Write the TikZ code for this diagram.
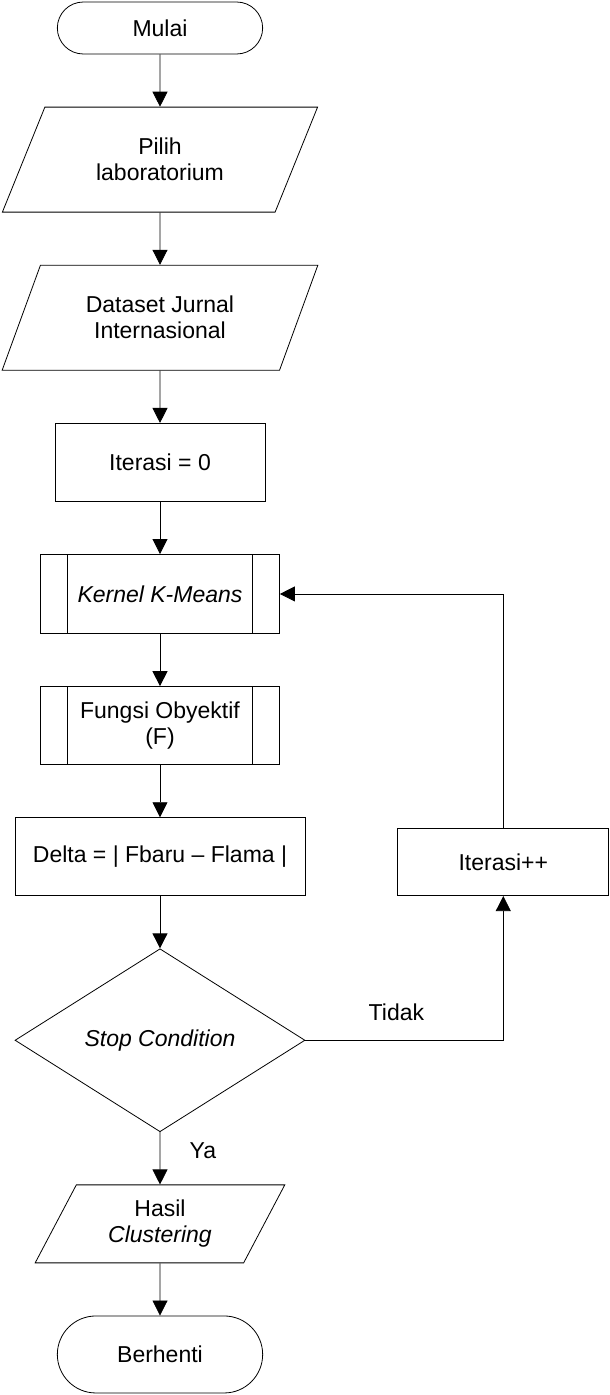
\documentclass[tikz,border=0pt]{standalone}
\usepackage{fontspec}
\setmainfont{Liberation Sans}
\usetikzlibrary{positioning, arrows.meta, shapes.geometric, shapes.misc}
\newcommand{\flowdist}{52.3pt}
\newcommand{\flowarrow}{-{Triangle[length=15pt,width=15pt]}}

\begin{document}
\begin{tikzpicture}[
        node distance=\flowdist,
        line width=0.8pt,
        every node/.style={font=\fontsize{23}{26}\selectfont, align=center},
        terminal/.style={draw, rounded rectangle, minimum width=212pt},
        data/.style={draw, trapezium, trapezium left angle=63.4, trapezium right angle=116.6,
            trapezium stretches=true, minimum width=316pt, minimum height=105pt},
        process/.style={draw, rectangle, minimum width=210pt, minimum height=78pt},
        subproc/.style={process, minimum width=239pt, path picture={
            \draw ([xshift=27pt]path picture bounding box.north west) -- ([xshift=27pt]path picture bounding box.south west)
                  ([xshift=-27pt]path picture bounding box.north east) -- ([xshift=-27pt]path picture bounding box.south east);}},
        decision/.style={draw, diamond, minimum width=290pt, minimum height=183pt, inner sep=0pt}
    ]
        \useasboundingbox (-160pt,28pt) rectangle (450pt,-1367pt);
        \node[terminal, minimum height=52pt] (mulai) {Mulai};
        \node[data, below=of mulai] (pilih) {Pilih\\laboratorium};
        \node[data, below=of pilih] (dataset) {Dataset Jurnal\\Internasional};
        \node[process, below=of dataset] (iterasinol) {Iterasi = 0};
        \node[subproc, minimum height=79pt, below=of iterasinol] (kernel) {\textit{Kernel K-Means}};
        \node[subproc, below=of kernel] (fungsi) {Fungsi Obyektif\\(F)};
        \node[process, minimum width=290pt, below=of fungsi] (delta) {Delta = | Fbaru -- Flama |};
        \node[decision, below=of delta] (stop) {\textit{Stop Condition}};
        \node[data, minimum width=250pt, minimum height=78pt, below=of stop] (hasil) {Hasil\\\textit{Clustering}};
        \node[terminal, minimum height=77pt, below=of hasil] (berhenti) {Berhenti};
        \node[process, minimum width=211pt, minimum height=67pt, anchor=south west] (iterasiplus)
            at ([xshift=92pt]delta.south east) {Iterasi++};

        \draw[\flowarrow] (mulai) -- (pilih);
        \draw[\flowarrow] (pilih) -- (dataset);
        \draw[\flowarrow] (dataset) -- (iterasinol);
        \draw[\flowarrow] (iterasinol) -- (kernel);
        \draw[\flowarrow] (kernel) -- (fungsi);
        \draw[\flowarrow] (fungsi) -- (delta);
        \draw[\flowarrow] (delta) -- (stop);
        \draw[\flowarrow] (stop) -- node[right=26pt, pos=0.36] (ya) {Ya} (hasil);
        \draw[\flowarrow] (hasil) -- (berhenti);
        \draw[\flowarrow] (stop.east) -| node[above=16pt, pos=0.23] (tidak) {Tidak} (iterasiplus.south);
        \draw[\flowarrow] (iterasiplus.north) |- (kernel.east);
    \end{tikzpicture}
\end{document}
